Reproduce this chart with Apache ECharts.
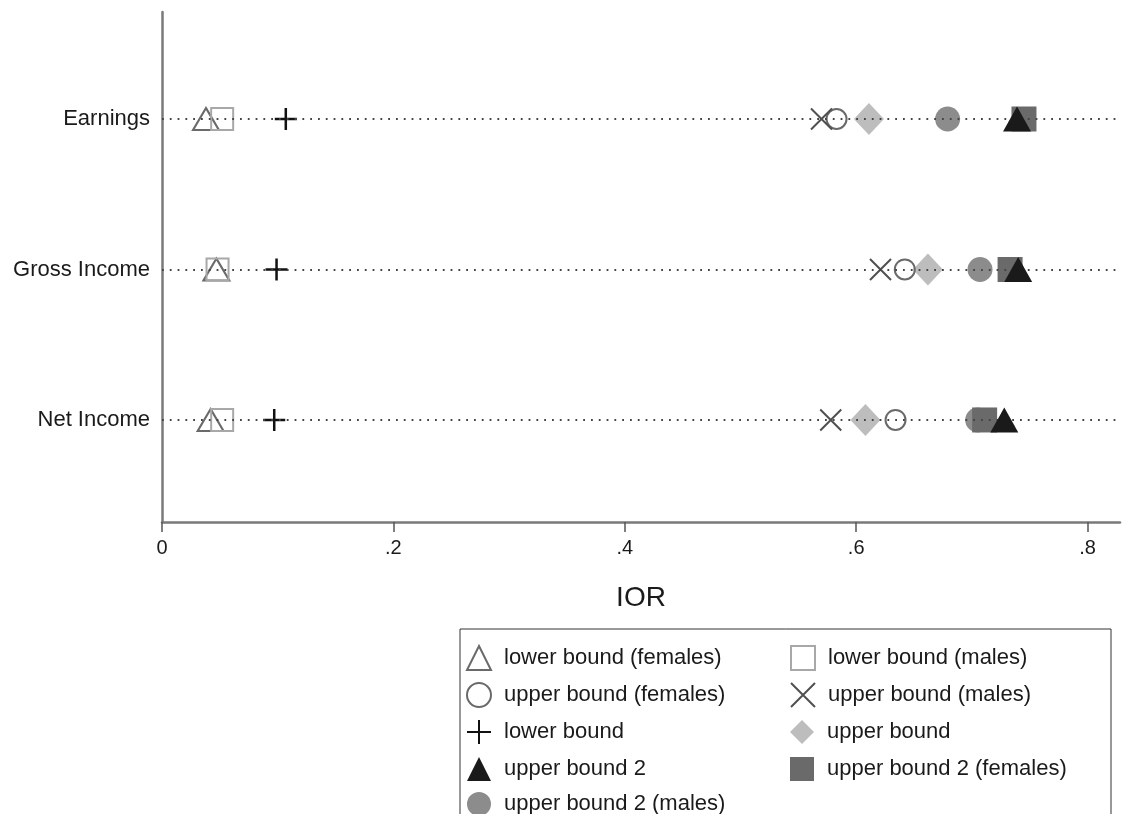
<!DOCTYPE html>
<html>
<head>
<meta charset="utf-8">
<title>IOR bounds</title>
<script src="https://cdn.jsdelivr.net/npm/echarts@6/dist/echarts.min.js"></script>
<style>
  html, body { margin: 0; padding: 0; background: #fff; }
  #chart { width: 1122px; height: 814px; }
</style>
</head>
<body>
<div id="chart"></div>
<script>
// Income measures, top to bottom
const categories = ['Earnings', 'Gross Income', 'Net Income'];
// vertical position of each row on the value axis
const rowPos = [3, 2, 1];

// IOR estimates per measure (same order as categories)
const lowerBoundFemales = [0.038, 0.047, 0.042];
const lowerBoundMales   = [0.052, 0.048, 0.052];
const upperBoundFemales = [0.583, 0.642, 0.634];
const upperBoundMales   = [0.570, 0.621, 0.578];
const lowerBound        = [0.107, 0.099, 0.097];
const upperBound        = [0.611, 0.662, 0.608];
const upperBound2       = [0.739, 0.740, 0.728];
const upperBound2Females = [0.745, 0.733, 0.711];
const upperBound2Males  = [0.679, 0.707, 0.705];

const xTicks = [0, 0.2, 0.4, 0.6, 0.8];

const FONT = 'Liberation Sans, Arial, Helvetica, sans-serif';

function pts(values) {
  return values.map((v, i) => [v, rowPos[i]]);
}

const crossPath = 'path://M0,0L20,20M20,0L0,20';
const plusPath = 'path://M10,0L10,20M0,10L20,10';

const seriesDefs = [
  { name: 'lower bound (females)', data: lowerBoundFemales, symbol: 'triangle', symbolSize: [26, 22],
    itemStyle: { color: 'rgba(0,0,0,0)', borderColor: '#6a6a6a', borderWidth: 2 }, z: 2 },
  { name: 'lower bound (males)', data: lowerBoundMales, symbol: 'rect', symbolSize: 22,
    itemStyle: { color: 'rgba(0,0,0,0)', borderColor: '#a8a8a8', borderWidth: 2 }, z: 2 },
  { name: 'upper bound (females)', data: upperBoundFemales, symbol: 'circle', symbolSize: 20,
    itemStyle: { color: 'rgba(0,0,0,0)', borderColor: '#6a6a6a', borderWidth: 2 }, z: 3 },
  { name: 'upper bound (males)', data: upperBoundMales, symbol: crossPath, symbolSize: 21,
    itemStyle: { color: 'rgba(0,0,0,0)', borderColor: '#505050', borderWidth: 2 }, z: 3 },
  { name: 'lower bound', data: lowerBound, symbol: plusPath, symbolSize: 22,
    itemStyle: { color: 'rgba(0,0,0,0)', borderColor: '#111', borderWidth: 2.5 }, z: 3 },
  { name: 'upper bound', data: upperBound, symbol: 'diamond', symbolSize: [30, 32],
    itemStyle: { color: '#bdbdbd' }, z: 2 },
  { name: 'upper bound 2', data: upperBound2, symbol: 'triangle', symbolSize: [28, 25],
    itemStyle: { color: '#1a1a1a' }, z: 5 },
  { name: 'upper bound 2 (females)', data: upperBound2Females, symbol: 'rect', symbolSize: 25,
    itemStyle: { color: '#6a6a6a' }, z: 4 },
  { name: 'upper bound 2 (males)', data: upperBound2Males, symbol: 'circle', symbolSize: 25,
    itemStyle: { color: '#8c8c8c' }, z: 2 }
];

const series = seriesDefs.map(d => ({
  type: 'scatter',
  name: d.name,
  data: pts(d.data),
  symbol: d.symbol,
  symbolSize: d.symbolSize,
  itemStyle: Object.assign({ opacity: 1 }, d.itemStyle),
  z: d.z,
  emphasis: { disabled: true }
}));

// dotted guide line across each row
series.unshift({
  type: 'line',
  name: 'rows',
  data: [],
  silent: true,
  z: 1,
  markLine: {
    silent: true,
    symbol: 'none',
    label: { show: false },
    lineStyle: { color: '#444', width: 1.8, type: [1.8, 6], opacity: 1 },
    emphasis: { disabled: true },
    data: rowPos.map(p => ({ yAxis: p }))
  }
});

const chart = echarts.init(document.getElementById('chart'), null, { renderer: 'canvas' });

chart.setOption({
  animation: false,
  backgroundColor: '#fff',
  grid: { left: 162, right: 2, top: 12, bottom: 292, containLabel: false },
  xAxis: {
    type: 'value',
    min: 0,
    max: 0.828,
    interval: 0.2,
    name: 'IOR',
    nameLocation: 'middle',
    nameGap: 62,
    nameTextStyle: { fontFamily: FONT, fontSize: 28, color: '#1a1a1a' },
    axisLine: { show: true, onZero: false, lineStyle: { color: '#7a7a7a', width: 2.5 } },
    axisTick: { show: true, length: 10, lineStyle: { color: '#555', width: 1.5 }, customValues: xTicks },
    axisLabel: {
      customValues: xTicks,
      margin: 16,
      fontFamily: FONT,
      fontSize: 20,
      color: '#1a1a1a',
      formatter: v => (v === 0 ? '0' : String(+v.toFixed(1)).replace(/^0/, ''))
    },
    splitLine: { show: false }
  },
  yAxis: {
    type: 'value',
    min: 0.322,
    max: 3.711,
    axisLine: { show: true, lineStyle: { color: '#7a7a7a', width: 2.5 } },
    axisTick: { show: false },
    splitLine: { show: false },
    axisLabel: {
      customValues: rowPos,
      margin: 12,
      fontFamily: FONT,
      fontSize: 22,
      color: '#1a1a1a',
      formatter: v => categories[rowPos.indexOf(Math.round(v))] || ''
    }
  },
  legend: {
    data: seriesDefs.map(d => d.name),
    orient: 'horizontal',
    left: 460,
    top: 629,
    width: 640,
    itemWidth: 24,
    itemHeight: 24,
    itemGap: 11,
    padding: [16, 8, 30, 6],
    borderColor: '#333',
    borderWidth: 1,
    backgroundColor: '#fff',
    selectedMode: false,
    textStyle: {
      fontFamily: FONT,
      fontSize: 22,
      color: '#1a1a1a',
      width: 275,
      lineHeight: 24,
      padding: [0, 0, 0, 8]
    }
  },
  series: series
});
</script>
</body>
</html>
